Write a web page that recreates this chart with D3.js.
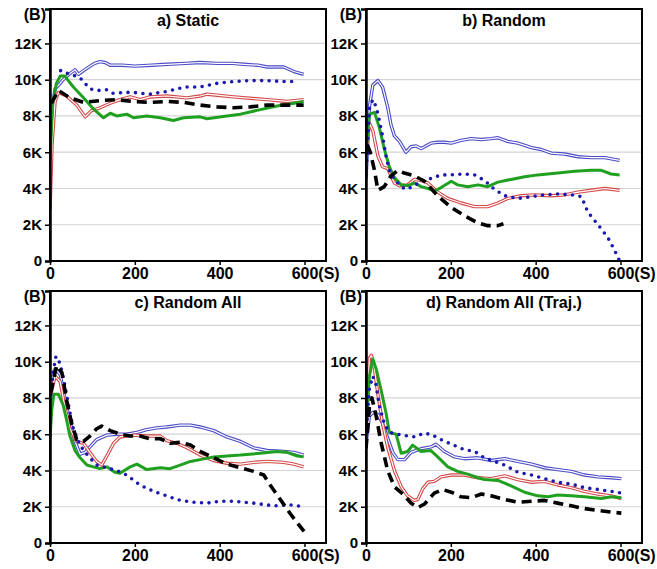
<!DOCTYPE html>
<html>
<head>
<meta charset="utf-8">
<script src="https://cdn.jsdelivr.net/npm/d3@7"></script>
<style>
  body { margin: 0; background: #fff; }
  text { font-family: "Liberation Sans", Arial, sans-serif; font-weight: bold; fill: #000; }
</style>
</head>
<body>
<div id="wrapper"></div>
<script>
// tick values (K = thousands)
const xTicks = [0, 200, 400, 600];
const yTicks = [0, 2, 4, 6, 8, 10, 12];
const panelTitles = ["a) Static", "b) Random", "c) Random All", "d) Random All (Traj.)"];

// a) Static  -- [time (s), value (K)]
const staticBlueDouble = [[0,4.7],[6,8.5],[12,9.5],[24,9.8],[31,10.0],[45,10.3],[59,10.55],[67,10.3],[85,10.6],[105,10.9],[118,11.0],[130,10.95],[142,10.8],[170,10.8],[200,10.75],[240,10.8],[276,10.85],[320,10.9],[354,10.95],[394,10.9],[430,10.9],[457,10.85],[490,10.8],[512,10.7],[551,10.7],[575,10.45],[598,10.3]];
const staticBlueDotted = [[25,10.5],[31,10.4],[50,10.3],[71,10.1],[94,9.5],[111,9.4],[134,9.45],[149,9.25],[175,9.3],[197,9.3],[213,9.25],[236,9.2],[260,9.3],[276,9.35],[300,9.5],[323,9.6],[354,9.6],[394,9.8],[433,9.9],[470,9.95],[512,9.95],[550,9.9],[583,9.9]];
const staticRedDouble = [[0,2.8],[5,6.5],[12,8.8],[20,9.3],[39,9.1],[63,8.6],[83,7.95],[98,8.3],[118,8.45],[142,8.7],[165,8.9],[189,9.05],[213,8.9],[236,9.05],[276,9.1],[323,9.0],[354,9.1],[370,9.2],[433,9.05],[512,8.9],[559,8.8],[598,8.9]];
const staticGreen = [[0,5.5],[6,8.6],[15,9.8],[24,10.2],[35,10.2],[55,9.6],[79,9.0],[102,8.4],[126,7.9],[142,8.15],[157,8.0],[181,8.1],[197,7.9],[228,8.0],[260,7.9],[291,7.75],[315,7.9],[354,7.95],[370,7.85],[417,8.0],[449,8.1],[496,8.35],[535,8.55],[575,8.7],[598,8.8]];
const staticBlackDashed = [[3,8.7],[20,9.4],[47,9.0],[79,8.75],[118,8.85],[157,8.9],[197,8.8],[236,8.75],[276,8.8],[315,8.75],[354,8.6],[394,8.5],[433,8.45],[472,8.5],[512,8.6],[559,8.6],[598,8.6]];

// b) Random
const randomBlueDouble = [[0,4.5],[8,8.5],[16,9.7],[28,9.95],[39,9.6],[51,8.5],[59,7.5],[67,6.9],[79,6.6],[94,6.0],[106,6.3],[118,6.35],[130,6.2],[138,6.3],[153,6.5],[169,6.55],[185,6.55],[201,6.5],[224,6.65],[248,6.75],[272,6.7],[295,6.75],[311,6.8],[334,6.6],[358,6.5],[390,6.25],[413,6.15],[437,5.95],[468,5.9],[500,5.75],[531,5.7],[563,5.7],[598,5.55]];
const randomBlueDotted = [[0,4.7],[8,8.4],[16,8.9],[24,8.5],[31,7.8],[39,6.9],[47,5.8],[55,5.0],[67,4.5],[83,4.1],[94,3.95],[110,4.1],[130,4.4],[153,4.55],[177,4.75],[201,4.75],[232,4.8],[256,4.75],[279,4.45],[303,3.95],[327,3.6],[358,3.45],[390,3.55],[421,3.65],[452,3.7],[484,3.65],[508,3.55],[523,2.7],[547,2.0],[570,1.3],[586,0.6],[598,0.0]];
const randomRedDouble = [[0,6.0],[8,7.6],[16,7.2],[28,5.8],[39,5.2],[51,5.1],[67,4.3],[79,4.15],[98,4.2],[114,4.5],[130,4.45],[146,4.3],[169,3.8],[193,3.45],[224,3.2],[256,3.0],[287,3.0],[311,3.2],[334,3.45],[366,3.6],[397,3.65],[437,3.6],[468,3.65],[500,3.8],[531,3.9],[563,4.0],[598,3.9]];
const randomGreen = [[0,6.0],[8,8.1],[20,8.2],[31,7.4],[43,6.2],[55,5.2],[67,4.6],[83,4.2],[98,4.15],[114,4.3],[130,4.1],[146,4.0],[161,3.85],[177,4.05],[201,4.4],[216,4.2],[240,4.1],[264,4.2],[287,4.1],[311,4.35],[342,4.5],[374,4.65],[405,4.75],[452,4.85],[492,4.95],[531,5.0],[555,5.0],[578,4.8],[598,4.75]];
const randomBlackDashed = [[3,6.4],[10,6.0],[20,5.0],[28,3.9],[43,4.1],[59,4.7],[75,5.0],[90,4.85],[114,4.7],[138,4.4],[169,3.6],[201,2.95],[232,2.5],[264,2.1],[287,1.95],[311,1.95],[324,2.05]];

// c) Random All
const randomAllBlueDouble = [[0,8.5],[4,9.0],[12,9.6],[24,9.3],[35,8.0],[47,6.7],[59,5.6],[71,4.9],[83,5.0],[94,5.3],[110,5.7],[134,5.95],[157,6.0],[181,6.0],[205,6.1],[228,6.25],[252,6.35],[275,6.4],[307,6.5],[331,6.5],[354,6.4],[386,6.2],[417,5.85],[449,5.6],[480,5.25],[512,5.1],[551,5.05],[575,5.0],[598,4.85]];
const randomAllBlueDotted = [[2,8.2],[8,9.5],[14,10.3],[24,9.9],[35,8.7],[47,7.2],[55,6.3],[67,5.6],[79,5.1],[94,4.7],[110,4.3],[134,4.15],[157,4.0],[181,3.75],[212,3.2],[244,2.85],[275,2.6],[307,2.35],[338,2.25],[370,2.2],[401,2.3],[433,2.3],[480,2.2],[527,2.05],[567,2.1],[598,2.0]];
const randomAllRedDouble = [[0,7.8],[4,8.4],[12,9.2],[24,8.9],[35,7.5],[47,6.3],[63,5.6],[79,5.5],[94,5.0],[110,4.5],[122,4.3],[134,4.8],[150,5.5],[165,5.85],[197,5.95],[228,5.9],[260,5.9],[275,5.65],[299,5.5],[323,5.25],[354,4.85],[386,4.55],[417,4.4],[449,4.35],[480,4.45],[512,4.5],[551,4.45],[575,4.35],[598,4.2]];
const randomAllGreen = [[0,5.8],[4,7.3],[9,8.2],[20,8.2],[31,7.6],[39,6.8],[47,5.9],[59,5.1],[71,4.7],[87,4.3],[102,4.2],[118,4.1],[134,4.2],[153,3.9],[165,3.85],[189,4.2],[205,4.35],[228,4.05],[260,4.15],[283,4.1],[307,4.3],[331,4.5],[354,4.6],[386,4.75],[417,4.8],[449,4.85],[496,4.95],[535,5.05],[559,5.0],[583,4.8],[598,4.75]];
const randomAllBlackDashed = [[2,8.3],[8,9.0],[16,9.8],[28,9.4],[39,7.9],[51,6.6],[63,5.7],[79,5.6],[94,5.9],[110,6.3],[122,6.45],[142,6.2],[165,6.0],[189,5.9],[212,5.9],[236,5.75],[260,5.75],[283,5.5],[307,5.55],[331,5.4],[354,5.05],[386,4.7],[417,4.35],[449,4.15],[480,3.95],[504,3.75],[519,3.2],[543,2.4],[567,1.6],[590,0.9],[602,0.55]];

// d) Random All (Traj.)
const trajBlueDouble = [[0,5.5],[8,7.0],[16,7.2],[28,7.1],[39,6.6],[51,5.8],[63,5.0],[75,4.6],[91,4.6],[106,5.0],[130,5.2],[153,5.3],[165,5.45],[185,5.05],[209,4.75],[232,4.65],[264,4.7],[295,4.55],[327,4.65],[358,4.5],[390,4.35],[421,4.15],[452,4.05],[484,3.95],[515,3.75],[547,3.65],[578,3.6],[602,3.55]];
const trajBlueDotted = [[0,6.0],[8,8.5],[16,9.2],[24,8.7],[31,7.6],[43,6.6],[55,6.1],[75,6.0],[98,5.9],[118,5.85],[134,6.05],[153,6.0],[177,5.7],[201,5.45],[232,5.15],[256,5.05],[279,4.7],[303,4.5],[327,4.3],[358,3.9],[390,3.75],[421,3.55],[452,3.35],[484,3.25],[515,3.05],[547,2.95],[578,2.85],[602,2.75]];
const trajRedDouble = [[0,6.0],[8,10.2],[13,10.35],[20,9.6],[28,8.2],[39,6.6],[51,5.3],[67,4.0],[83,3.1],[98,2.6],[114,2.35],[122,2.4],[134,3.0],[146,3.35],[161,3.4],[177,3.65],[201,3.75],[232,3.75],[264,3.6],[295,3.55],[327,3.7],[358,3.5],[390,3.35],[421,3.4],[452,3.2],[484,3.05],[515,2.85],[547,2.7],[578,2.6],[602,2.45]];
const trajGreen = [[0,6.3],[8,9.2],[16,10.15],[24,9.6],[35,8.5],[47,7.2],[55,6.1],[71,6.0],[83,4.95],[98,5.05],[110,5.4],[130,5.05],[153,5.1],[169,4.75],[193,4.2],[216,3.95],[240,3.8],[264,3.6],[279,3.5],[311,3.45],[342,3.15],[374,2.8],[405,2.6],[429,2.55],[452,2.65],[484,2.6],[515,2.55],[555,2.45],[578,2.55],[602,2.5]];
const trajBlackDashed = [[0,5.2],[8,7.5],[14,8.0],[24,7.0],[35,5.6],[51,4.0],[67,3.1],[87,2.7],[106,2.2],[122,1.95],[138,2.15],[161,2.75],[181,2.95],[201,2.8],[224,2.55],[248,2.5],[272,2.7],[295,2.6],[327,2.4],[358,2.25],[390,2.3],[421,2.35],[452,2.2],[484,2.05],[515,1.9],[547,1.8],[578,1.7],[602,1.65]];

const panelData = [
    [staticBlueDouble, staticBlueDotted, staticRedDouble, staticGreen, staticBlackDashed],
    [randomBlueDouble, randomBlueDotted, randomRedDouble, randomGreen, randomBlackDashed],
    [randomAllBlueDouble, randomAllBlueDotted, randomAllRedDouble, randomAllGreen, randomAllBlackDashed],
    [trajBlueDouble, trajBlueDotted, trajRedDouble, trajGreen, trajBlackDashed],
]

function drawChart() {
    const dimensions = {
        width: 657,
        height: 569,
        panelWidth: 276,
        panelHeight: 252,
    }
    const panelPos = [
        {left: 50, top: 9},
        {left: 366, top: 9},
        {left: 50, top: 291},
        {left: 366, top: 291},
    ]

    const wrapper = d3.select("#wrapper")
        .append("svg")
        .attr("width", dimensions.width)
        .attr("height", dimensions.height);

    const xScaler = d3.scaleLinear()
        .domain([0, 650.7])
        .range([0, dimensions.panelWidth]);
    const yScaler = d3.scaleLinear()
        .domain([0, 13.9])
        .range([dimensions.panelHeight, 0]);

    const lineGen = d3.line()
        .x(d => xScaler(d[0]))
        .y(d => yScaler(d[1]));

    // order of drawing: blue double, red double, green, blue dotted, black dashed
    const styles = [
        {key: 0, color: "#4a4ac6", width: 3.4, inner: 1.2},
        {key: 2, color: "#d44848", width: 3.4, inner: 1.2},
        {key: 3, color: "#20a020", width: 3},
        {key: 1, color: "#1a1ab0", width: 3.6, dash: "0 7.5"},
        {key: 4, color: "#000000", width: 3.6, dash: "10 6"},
    ]

    panelPos.forEach((pos, i) => {
        const bounds = wrapper.append("g")
            .attr("transform", `translate(${pos.left},${pos.top})`);

        bounds.append("clipPath")
            .attr("id", "clip" + i)
            .append("rect")
            .attr("width", dimensions.panelWidth)
            .attr("height", dimensions.panelHeight);

        // gridlines
        bounds.append("g")
            .selectAll("line")
            .data(yTicks.filter(d => d > 0))
            .join("line")
            .attr("x1", 0)
            .attr("x2", dimensions.panelWidth)
            .attr("y1", d => yScaler(d))
            .attr("y2", d => yScaler(d))
            .attr("stroke", "#d4d4d4")
            .attr("stroke-width", 1.2);

        const lines = bounds.append("g")
            .attr("clip-path", `url(#clip${i})`);

        styles.forEach(s => {
            const data = panelData[i][s.key];
            const path = lines.append("path")
                .datum(data)
                .attr("d", lineGen)
                .attr("fill", "none")
                .attr("stroke", s.color)
                .attr("stroke-width", s.width)
                .attr("stroke-linejoin", "round")
                .attr("stroke-linecap", s.dash && s.dash.startsWith("0") ? "round" : "butt");
            if (s.dash) path.attr("stroke-dasharray", s.dash);
            if (s.inner) {
                lines.append("path")
                    .datum(data)
                    .attr("d", lineGen)
                    .attr("fill", "none")
                    .attr("stroke", "#ffffff")
                    .attr("stroke-width", s.inner)
                    .attr("stroke-linejoin", "round");
            }
        });

        // frame
        bounds.append("rect")
            .attr("width", dimensions.panelWidth)
            .attr("height", dimensions.panelHeight)
            .attr("fill", "none")
            .attr("stroke", "black")
            .attr("stroke-width", 2);

        const yAxisGen = d3.axisLeft(yScaler)
            .tickValues(yTicks)
            .tickSize(5)
            .tickPadding(3)
            .tickFormat(d => d === 0 ? "0" : d + "K");
        const yAxis = bounds.append("g").call(yAxisGen);
        yAxis.select(".domain").attr("stroke-width", 2.5);
        yAxis.selectAll(".tick line").attr("stroke-width", 1.5);
        yAxis.selectAll("text")
            .attr("font-size", "15px")
            .attr("font-family", null);

        const xAxisGen = d3.axisBottom(xScaler)
            .tickValues(xTicks)
            .tickSize(4)
            .tickSizeOuter(0)
            .tickPadding(3)
            .tickFormat(d3.format("d"));
        const xAxis = bounds.append("g")
            .attr("transform", `translate(0,${dimensions.panelHeight})`)
            .call(xAxisGen);
        xAxis.select(".domain").remove();
        xAxis.selectAll(".tick line").attr("stroke-width", 1.5);
        xAxis.selectAll("text")
            .attr("font-size", "16px")
            .attr("font-family", null);
        // the last label carries the unit
        xAxis.selectAll(".tick text")
            .filter(d => d === 600)
            .each(function () {
                const t = d3.select(this);
                const w = this.getComputedTextLength();
                t.attr("text-anchor", "start").attr("x", -w / 2);
                t.append("tspan").text("(S)");
            });

        bounds.append("text")
            .attr("x", -4)
            .attr("y", 11)
            .attr("text-anchor", "end")
            .attr("font-size", "16px")
            .text("(B)");

        bounds.append("text")
            .attr("x", dimensions.panelWidth / 2)
            .attr("y", 17)
            .attr("text-anchor", "middle")
            .attr("font-size", "16px")
            .text(panelTitles[i]);
    });
}

drawChart();
</script>
</body>
</html>
